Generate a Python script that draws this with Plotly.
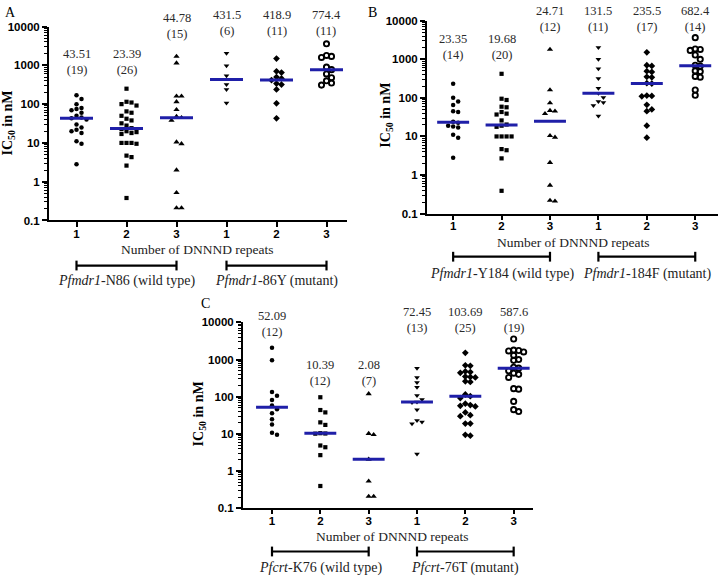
import numpy as np
import plotly.graph_objects as go

# ---------------- data ----------------
TICK_TEXT = ["1", "2", "3", "1", "2", "3"]

# Panel A: Pfmdr1 N86 / 86Y
A1 = [170, 135, 100, 80, 75, 70, 60, 50, 45, 43.51, 40, 30, 25, 22, 20, 18, 11, 9.5, 2.8]
A2 = [250, 115, 110, 100, 92, 65, 60, 50, 42, 38, 32, 28, 24, 22.8, 20, 19, 18, 17, 10, 10, 10, 9.5, 4.7, 4.3, 2.6, 0.38]
A3 = [1700, 1150, 160, 160, 115, 72, 48, 44.78, 38, 10.5, 9.5, 2.0, 0.52, 0.21, 0.21]
A4 = [2050, 975, 540, 323, 240, 107]
A5 = [1500, 700, 650, 500, 460, 418.9, 340, 320, 240, 105, 43]
A6 = [3600, 1800, 1700, 1600, 900, 774.4, 600, 480, 400, 350, 310]
A_MED = ["43.51", "23.39", "44.78", "431.5", "418.9", "774.4"]
A_GROUPS = ["<i>Pfmdr1</i>-N86 (wild type)", "<i>Pfmdr1</i>-86Y (mutant)"]

# Panel B: Pfmdr1 Y184 / 184F
B1 = [233, 100, 80, 65, 45, 43, 24, 22.7, 19, 18, 17, 11, 9.3, 2.8]
B2 = [420, 95, 88, 59, 57, 43, 39, 37, 26, 20.36, 19, 17.8, 10, 10, 10, 10, 4.7, 4.4, 2.7, 0.39]
B3 = [1800, 160, 74, 47, 45, 38.9, 10.5, 9.5, 2.1, 0.54, 0.22, 0.21]
B4 = [2030, 1000, 570, 316, 177, 131.5, 102, 81, 76, 63, 34]
B5 = [1510, 700, 670, 490, 470, 350, 340, 240, 235.5, 115, 112, 110, 66, 50, 45, 19, 9.3]
B6 = [3640, 1850, 1800, 1700, 1290, 1000, 700, 665, 500, 480, 360, 343, 160, 117]
B_MED = ["23.35", "19.68", "24.71", "131.5", "235.5", "682.4"]
B_GROUPS = ["<i>Pfmdr1</i>-Y184 (wild type)", "<i>Pfmdr1</i>-184F (mutant)"]

# Panel C: Pfcrt K76 / 76T
C1 = [2070, 950, 134, 107, 82, 58, 46.2, 36, 25, 18, 10.8, 9.6]
C2 = [97, 44, 38, 20.5, 17.5, 10.5, 10.3, 10.2, 4.9, 4.4, 2.7, 0.4]
C3 = [120, 10.3, 9.6, 2.08, 0.54, 0.21, 0.21]
C4 = [580, 330, 243, 180, 108, 85, 72.45, 70, 45, 23, 21, 18.7, 2.9]
C5 = [1520, 700, 680, 480, 460, 440, 350, 340, 330, 260, 250, 115, 103.69, 92, 65, 60, 57, 55, 38, 32, 30, 19, 19, 9.5, 9.0]
C6 = [3570, 1800, 1750, 1700, 1600, 1300, 1000, 950, 620, 587.6, 500, 430, 400, 330, 165, 160, 75, 45, 40]
C_MED = ["52.09", "10.39", "2.08", "72.45", "103.69", "587.6"]
C_GROUPS = ["<i>Pfcrt</i>-K76 (wild type)", "<i>Pfcrt</i>-76T (mutant)"]

# ---------------- layout / style ----------------
W, H = 720, 581
SERIF = "Liberation Serif"
SANS = "Liberation Sans"
BLUE = "#1f1fa8"
SYMBOLS = ["circle", "square", "triangle-up", "triangle-down", "diamond", "circle-open"]
SIZES = [4.5, 4.2, 5.5, 5, 5.2, 5.2]


def py(px):
    return 1 - px / H


PANELS = [
    dict(name="A", data=[A1, A2, A3, A4, A5, A6], med=A_MED, groups=A_GROUPS,
         xpx=(49, 347), ypx=(21, 219), xr=(-0.55, 5.41), xticklen=5,
         lab_lvl=[2.64, 2.64, 3.57, 3.66, 3.66, 3.66],
         letter=(3, 7), ytitle=(9, 120), xtitle=(197, 249), bracket=265, glabel=281),
    dict(name="B", data=[B1, B2, B3, B4, B5, B6], med=B_MED, groups=B_GROUPS,
         xpx=(427, 718), ypx=(15, 212), xr=(-0.54, 5.47), xticklen=4,
         lab_lvl=[2.88, 2.88, 3.6, 3.6, 3.6, 3.6],
         letter=(366, 7), ytitle=(387, 112), xtitle=(573, 241), bracket=256, glabel=274),
    dict(name="C", data=[C1, C2, C3, C4, C5, C6], med=C_MED, groups=C_GROUPS,
         xpx=(243, 533), ypx=(323, 513), xr=(-0.6, 5.4), xticklen=4,
         lab_lvl=[3.5, 2.18, 2.18, 3.6, 3.6, 3.6],
         letter=(199, 304), ytitle=(199, 417), xtitle=(393, 542), bracket=557, glabel=574),
]


def swarm(vals, px_dec, px_unit, d=5.0):
    """Simple beeswarm: offsets (in x units) so markers don't overlap."""
    order = np.argsort(vals)[::-1]
    placed = []
    offs = np.zeros(len(vals))
    cands = [0]
    for j in range(1, 12):
        cands += [j, -j]
    for idx in order:
        ypix = np.log10(vals[idx]) * px_dec
        for c in cands:
            xpix = c * d
            if all((xpix - a) ** 2 + (ypix - b) ** 2 >= (d * 0.98) ** 2 for a, b in placed):
                placed.append((xpix, ypix))
                offs[idx] = xpix / px_unit
                break
    return offs


fig = go.Figure()
annotations = []
shapes = []

for p_i, P in enumerate(PANELS):
    sfx = "" if p_i == 0 else str(p_i + 1)
    xa, ya = "x" + sfx, "y" + sfx
    x0, x1 = P["xpx"]
    yt, yb = P["ypx"]
    px_unit = (x1 - x0) / (P["xr"][1] - P["xr"][0])
    px_dec = (yb - yt) / 5.0

    for g, vals in enumerate(P["data"]):
        vals = np.array(vals, dtype=float)
        offs = swarm(vals, px_dec, px_unit, d=5.0)
        open_c = SYMBOLS[g] == "circle-open"
        fig.add_trace(go.Scatter(
            x=g + offs, y=vals, mode="markers", xaxis=xa, yaxis=ya,
            marker=dict(symbol=SYMBOLS[g], size=SIZES[g], color="black",
                        line=dict(width=1.9 if open_c else 0, color="black")),
            hoverinfo="skip", showlegend=False, cliponaxis=False))
        med = float(np.median(vals))
        fig.add_trace(go.Scatter(
            x=[g - 0.33, g + 0.33], y=[med, med], mode="lines", xaxis=xa, yaxis=ya,
            line=dict(color=BLUE, width=3), hoverinfo="skip", showlegend=False))
        annotations.append(dict(
            x=g, y=P["lab_lvl"][g], xref=xa, yref=ya, yanchor="bottom", xanchor="center",
            text=f"{P['med'][g]}<br>({len(vals)})", showarrow=False,
            font=dict(family=SERIF, size=12.5, color="#2a2a2a")))

    fig.update_layout(**{
        "xaxis" + sfx: dict(
            domain=[x0 / W, x1 / W], range=list(P["xr"]), anchor=ya,
            tickmode="array", tickvals=list(range(6)), ticktext=TICK_TEXT,
            ticks="outside", ticklen=P["xticklen"], tickwidth=2, tickcolor="black",
            ticklabelstandoff=-3,
            showline=True, linewidth=2, linecolor="black", showgrid=False, zeroline=False,
            tickfont=dict(family=SANS, size=11.5, color="black", weight="bold")),
        "yaxis" + sfx: dict(
            domain=[py(yb), py(yt)], type="log", range=[-1, 4], anchor=xa,
            tickmode="array", tickvals=[0.1, 1, 10, 100, 1000, 10000],
            ticktext=["0.1", "1", "10", "100", "1000", "10000"],
            ticks="outside", ticklen=5, tickwidth=2, tickcolor="black",
            minor=dict(ticks="outside", ticklen=3, tickwidth=1, tickcolor="black",
                       dtick="D1", showgrid=False),
            showline=True, linewidth=2, linecolor="black", showgrid=False, zeroline=False,
            tickfont=dict(family=SANS, size=11.5, color="black", weight="bold")),
    })

    annotations.append(dict(x=P["letter"][0] / W, y=py(P["letter"][1]), xref="paper", yref="paper",
                            xanchor="left", yanchor="middle", text=P["name"], showarrow=False,
                            font=dict(family=SERIF, size=14, color="black")))
    annotations.append(dict(x=P["ytitle"][0] / W, y=py(P["ytitle"][1]), xref="paper", yref="paper",
                            xanchor="center", yanchor="middle", textangle=-90,
                            text="<b>IC<sub>50</sub> in nM</b>", showarrow=False,
                            font=dict(family=SERIF, size=14, color="black")))
    annotations.append(dict(x=P["xtitle"][0] / W, y=py(P["xtitle"][1]), xref="paper", yref="paper",
                            xanchor="center", yanchor="middle", text="Number of DNNND repeats",
                            showarrow=False, font=dict(family=SERIF, size=13.5, color="#222222")))
    by = py(P["bracket"])
    cap = 5 / H
    for k, (ga, gb) in enumerate([(0, 2), (3, 5)]):
        shapes.append(dict(type="line", xref=xa, yref="paper", x0=ga, x1=gb, y0=by, y1=by,
                           line=dict(color="black", width=2.2)))
        for gx in (ga, gb):
            shapes.append(dict(type="line", xref=xa, yref="paper", x0=gx, x1=gx,
                               y0=by - cap, y1=by + cap, line=dict(color="black", width=2.2)))
        annotations.append(dict(x=(ga + gb) / 2, y=py(P["glabel"]), xref=xa, yref="paper",
                                xanchor="center", yanchor="middle", text=P["groups"][k],
                                showarrow=False, font=dict(family=SERIF, size=14, color="#222222")))

fig.update_layout(width=W, height=H, margin=dict(l=0, r=0, t=0, b=0),
                  paper_bgcolor="white", plot_bgcolor="white", showlegend=False,
                  hovermode=False, annotations=annotations, shapes=shapes)

fig.write_html("out.html", config={"displayModeBar": False, "staticPlot": True},
               post_script="document.body.style.margin='0px';document.body.style.padding='0px';")
